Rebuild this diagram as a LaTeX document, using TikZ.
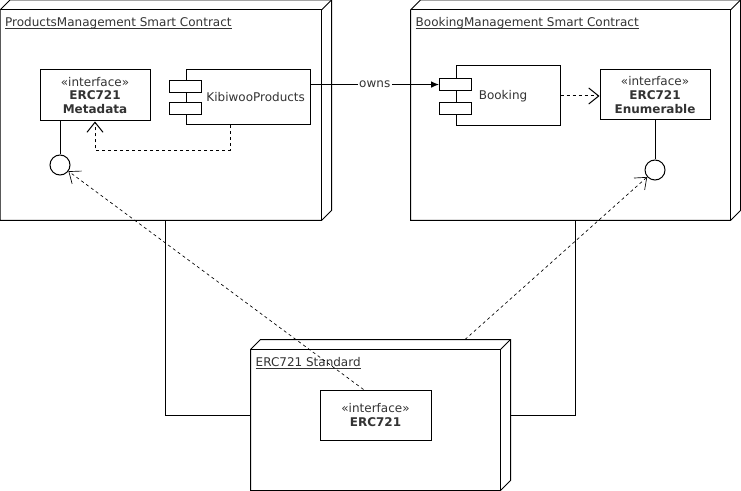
\documentclass[tikz,border=0pt]{standalone}
\usepackage{fontspec}
\setmainfont{DejaVu Sans}
\usetikzlibrary{positioning,fit,calc,arrows.meta}

\tikzset{
  box3d/.style={inner sep=0pt},
  title/.style={anchor=base west,inner sep=0pt,text=black!80},
  iface/.style={draw,fill=white,align=center,inner sep=1pt,text=black!80},
  comp/.style={draw,fill=white,inner sep=0pt},
  port/.style={draw,fill=white,minimum width=24pt,minimum height=9pt,inner sep=0pt},
  lolli/.style={draw,circle,minimum size=15pt,inner sep=0pt},
  dep/.style={dash pattern=on 2.25pt off 2.25pt,-{Straight Barb[length=7.5pt,width=12pt]}},
}

\begin{document}
\begin{tikzpicture}[x=0.75pt,y=-0.75pt,line width=0.75pt,font=\fontsize{9}{10.4}\selectfont]
  \useasboundingbox (0,0) rectangle (741,491);
  % deployment nodes
  \node[box3d,fit={(0.5,0.5) (331,220)}](pm){};
  \node[box3d,fit={(411,0.5) (740,220)}](bm){};
  \node[box3d,fit={(251,340) (510,490)}](std){};
  \foreach \n in {pm,bm,std}{
    \draw (\n.south west) -- ([yshift=-7.5pt]\n.north west) -- ++(7.5pt,7.5pt) -- (\n.north east)
      -- ([yshift=7.5pt]\n.south east) -- ++(-7.5pt,-7.5pt) -- cycle;
    \draw ([yshift=-7.5pt]\n.north west) -| ([xshift=-7.5pt]\n.south east);
    \draw ([shift={(-7.5pt,-7.5pt)}]\n.north east) -- (\n.north east);
  }
  \node[title](pmtitle) at ([shift={(3.5pt,-20pt)}]pm.north west) {\underline{\smash{ProductsManagement Smart Contract}}};
  \node[title](bmtitle) at ([shift={(3.5pt,-20pt)}]bm.north west) {\underline{\smash{BookingManagement Smart Contract}}};
  \node[title](stdtitle) at ([shift={(3.5pt,-20pt)}]std.north west) {\underline{\smash{ERC721 Standard}}};

  % solid links
  \draw (pm.south) |- (std.west);
  \draw (bm.south) |- (std.east);

  % components
  \node[comp,minimum width=93pt,minimum height=41.25pt](kib) at (248,97.5) {};
  \node[port](kp1) at ([yshift=8.6pt]kib.west) {};
  \node[port](kp2) at ([yshift=-8.6pt]kib.west) {};
  \node[anchor=east,text=black!80](kibname) at ([xshift=-0.5pt]kib.east) {KibiwooProducts};
  \node[comp,minimum width=78pt,minimum height=45pt](book) at (508,96) {};
  \node[port](bp1) at ([yshift=8.6pt]book.west) {};
  \node[port](bp2) at ([yshift=-9.75pt]book.west) {};
  \node[text=black!80](bookname) at ([xshift=-3.75pt]book.center) {Booking};

  % interfaces
  \node[iface,minimum width=82.5pt,minimum height=38.25pt](meta) at (95,95.5) {«interface»\\\textbf{ERC721}\\\textbf{Metadata}};
  \node[iface,minimum width=82.5pt,minimum height=37.5pt](enum) at (655,95) {«interface»\\\textbf{ERC721}\\\textbf{Enumerable}};
  \node[iface,minimum width=83.25pt,minimum height=37.5pt](erc) at (375.5,415) {«interface»\\\textbf{ERC721}};
  \node[lolli](mc) at (60,165) {};
  \node[lolli](ec) at (655,170) {};
  \draw (meta.south -| mc) -- (mc);
  \draw (enum) -- (ec);

  % associations
  \draw[-{Latex[length=6pt,width=5pt]}] (kib.east |- bp1) -- (bp1.west) node[midway,fill=white,inner sep=1pt,text=black!80](owns){owns};
  \draw[dep] ([xshift=-13.5pt]kib.south) -- ++(0,25) -| (meta.south);
  \draw[dep] (book.east) -- (book.east -| enum.west);
  \draw[dep,line width=0.5pt] ([xshift=-9pt]erc.north) -- (mc);
  \draw[dep,line width=0.5pt] ([xshift=63.4pt]std.north) -- (ec);
\end{tikzpicture}
\end{document}
